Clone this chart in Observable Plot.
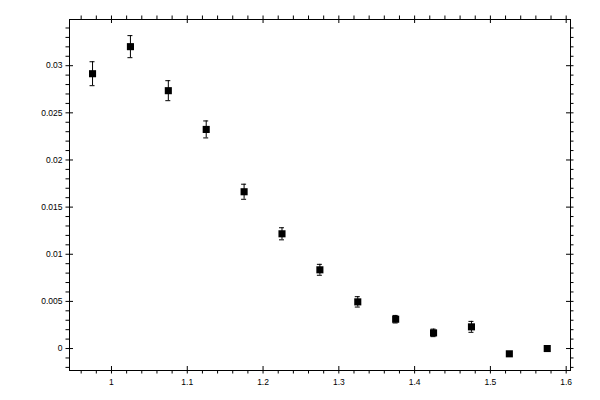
<!DOCTYPE html>
<html><head><meta charset="utf-8">
<script src="https://cdn.jsdelivr.net/npm/d3@7"></script>
<script src="https://cdn.jsdelivr.net/npm/@observablehq/plot@0.6"></script>
<style>body{margin:0;background:#fff}</style>
</head><body><div id="chart"></div>
<script>
const xValues = [0.975, 1.025, 1.075, 1.125, 1.175, 1.225, 1.275, 1.325, 1.375, 1.425, 1.475, 1.525, 1.575];
const yValues = [0.02915, 0.03202, 0.02735, 0.02324, 0.01663, 0.01217, 0.00835, 0.00495, 0.00311, 0.00166, 0.0023, -0.00056, 0.0];
const yErrors = [0.00127, 0.00117, 0.00106, 0.0009, 0.0008, 0.00064, 0.00058, 0.00055, 0.0004, 0.0004, 0.00058, 0.0002, 0.0002];
const xDomain = [0.9446, 1.6057];
const yDomain = [-0.00233, 0.0349];
const xMajorTicks = [1, 1.1, 1.2, 1.3, 1.4, 1.5, 1.6];
const yMajorTicks = [0, 0.005, 0.01, 0.015, 0.02, 0.025, 0.03];
const xMinorTicks = d3.range(48, 81).map(i => i / 50).filter(v => !xMajorTicks.some(m => Math.abs(m - v) < 1e-9));
const yMinorTicks = d3.range(-2, 35).map(i => i / 1000).filter(v => !yMajorTicks.some(m => Math.abs(m - v) < 1e-9));

const data = xValues.map((x, i) => ({x, y: yValues[i], lo: yValues[i] - yErrors[i], hi: yValues[i] + yErrors[i]}));

const yBottom = () => yDomain[0], yTop = () => yDomain[1];
const xLeft = () => xDomain[0], xRight = () => xDomain[1];
const id = d => d;
const k = {stroke: "black", strokeWidth: 1};

const chart = Plot.plot({
  width: 600,
  height: 400,
  marginLeft: 69,
  marginRight: 30,
  marginTop: 19,
  marginBottom: 30,
  style: {fontFamily: "'Liberation Sans', Arial, sans-serif", fontSize: "8.5px", background: "#fff", color: "black"},
  x: {domain: xDomain, label: null},
  y: {domain: yDomain, label: null},
  marks: [
    Plot.frame({stroke: "black", strokeWidth: 1}),
    // bottom axis ticks
    Plot.ruleX(xMinorTicks, {x: id, y1: yBottom, y2: yBottom, insetTop: 3.5, insetBottom: 0, ...k}),
    Plot.ruleX(xMajorTicks, {x: id, y1: yBottom, y2: yBottom, insetTop: 3.5, insetBottom: 4, ...k}),
    // top axis ticks
    Plot.ruleX(xMinorTicks, {x: id, y1: yTop, y2: yTop, insetTop: 0, insetBottom: 3.5, ...k}),
    Plot.ruleX(xMajorTicks, {x: id, y1: yTop, y2: yTop, insetTop: 4, insetBottom: 3.5, ...k}),
    // left axis ticks
    Plot.ruleY(yMinorTicks, {y: id, x1: xLeft, x2: xLeft, insetLeft: -3.5, insetRight: 0, ...k}),
    Plot.ruleY(yMajorTicks, {y: id, x1: xLeft, x2: xLeft, insetLeft: -3.5, insetRight: -4, ...k}),
    // right axis ticks
    Plot.ruleY(yMinorTicks, {y: id, x1: xRight, x2: xRight, insetLeft: 0, insetRight: -3.5, ...k}),
    Plot.ruleY(yMajorTicks, {y: id, x1: xRight, x2: xRight, insetLeft: -4, insetRight: -3.5, ...k}),
    // labels
    Plot.axisX(xMajorTicks, {anchor: "bottom", tickSize: 0, tickPadding: 8, label: null, tickFormat: d => String(d)}),
    Plot.axisY(yMajorTicks, {anchor: "left", tickSize: 0, tickPadding: 7, label: null, tickFormat: d => String(d)}),
    // error bars
    Plot.ruleX(data, {x: "x", y1: "lo", y2: "hi", ...k}),
    Plot.ruleY(data, {y: "hi", x1: "x", x2: "x", insetLeft: -2.5, insetRight: -2.5, ...k}),
    Plot.ruleY(data, {y: "lo", x1: "x", x2: "x", insetLeft: -2.5, insetRight: -2.5, ...k}),
    // markers
    Plot.dot(data, {x: "x", y: "y", symbol: "square", r: 4, fill: "black", stroke: "none"})
  ]
});
document.getElementById("chart").appendChild(chart);
</script>
</body></html>
